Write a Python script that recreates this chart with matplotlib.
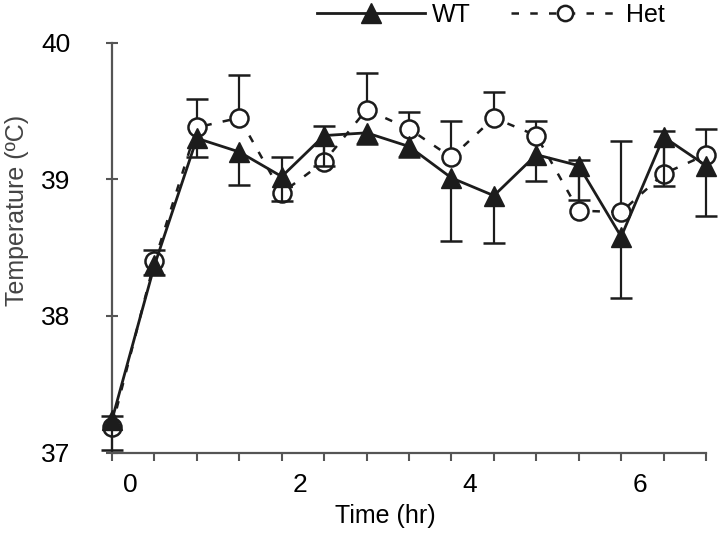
import matplotlib
matplotlib.use("Agg")
import matplotlib.pyplot as plt
from matplotlib.lines import Line2D

plt.rcParams["font.family"] = ["Liberation Sans", "DejaVu Sans"]

# time points (hr) as placed on the axis
times = [-0.22, 0.28, 0.78, 1.28, 1.78, 2.28, 2.78, 3.28, 3.78, 4.28, 4.78, 5.28, 5.78, 6.28, 6.78]
wt = [37.24, 38.37, 39.30, 39.20, 39.02, 39.32, 39.34, 39.24, 39.01, 38.88, 39.18, 39.10, 38.58, 39.31, 39.10]
wt_err = [0.22, 0.07, 0.14, 0.24, 0.18, 0.22, 0.08, 0.08, 0.46, 0.35, 0.19, 0.25, 0.45, 0.36, 0.37]
het = [37.19, 38.40, 39.38, 39.45, 38.90, 39.13, 39.51, 39.37, 39.16, 39.45, 39.32, 38.77, 38.76, 39.04, 39.18]
het_err = [0.08, 0.08, 0.21, 0.31, 0.26, 0.26, 0.27, 0.12, 0.27, 0.19, 0.11, 0.37, 0.52, 0.31, 0.19]
xtick_vals = [0, 2, 4, 6]
ytick_vals = [37, 38, 39, 40]

ink = "#1c1c1c"
axis_grey = "#555555"

fig = plt.figure(figsize=(7.2, 5.34), dpi=100)
ax = fig.add_axes([0.1556, 0.1526, 0.8250, 0.7675])

# Het: dashed line, open circles, upward error bars
het_hi = [v + e for v, e in zip(het, het_err)]
ax.vlines(times, het, het_hi, color=ink, lw=1.6, zorder=2, clip_on=False)
ax.plot(times, het_hi, ls="none", marker="_", ms=16, mew=1.8, color=ink, zorder=2, clip_on=False)
ax.plot(times, het, ls=(0, (3, 4.5)), lw=1.8, color=ink, marker="o", ms=13,
        mfc="white", mec=ink, mew=1.8, zorder=3, clip_on=False)

# WT: solid line, filled triangles, downward error bars
wt_lo = [v - e for v, e in zip(wt, wt_err)]
ax.vlines(times, wt_lo, wt, color=ink, lw=1.6, zorder=4, clip_on=False)
ax.plot(times, wt_lo, ls="none", marker="_", ms=16, mew=1.8, color=ink, zorder=4, clip_on=False)
ax.plot(times, wt, ls="-", lw=2.0, color=ink, marker="^", ms=14,
        mfc=ink, mec=ink, zorder=5, clip_on=False)

ax.set_xlim(-0.22, 6.78)
ax.set_ylim(37, 40)

ax.set_xticks(xtick_vals)
ax.set_xticklabels([str(v) for v in xtick_vals])
ax.set_xticks(times, minor=True)
ax.tick_params(axis="x", which="major", length=0, pad=15, labelsize=19)
ax.tick_params(axis="x", which="minor", length=6, width=1.5, direction="out", color=axis_grey)
ax.set_yticks(ytick_vals)
ax.tick_params(axis="y", which="major", length=8, width=1.5, direction="inout",
               color=axis_grey, pad=26, labelsize=19)

for side in ("top", "right"):
    ax.spines[side].set_visible(False)
for side in ("left", "bottom"):
    ax.spines[side].set_color(axis_grey)
    ax.spines[side].set_linewidth(1.6)

ax.set_xlabel("Time (hr)", fontsize=18)
ax.xaxis.set_label_coords(0.46, -0.125)
ax.set_ylabel("Temperature (ºC)", fontsize=18, color="#444444")
ax.yaxis.set_label_coords(-0.14, 0.59)

handles = [
    Line2D([], [], ls="-", lw=2.0, color=ink, marker="^", ms=14, mfc=ink, mec=ink),
    Line2D([], [], ls=(0, (3, 4.5)), lw=1.8, color=ink, marker="o", ms=11,
           mfc="white", mec=ink, mew=1.8),
]
ax.legend(handles, ["WT", "Het"], loc="center", bbox_to_anchor=(0.638, 1.067),
          ncol=2, frameon=False, fontsize=18, handlelength=4.3,
          handletextpad=0.3, columnspacing=1.6, borderaxespad=0)

fig.savefig("out.png", dpi=100)
